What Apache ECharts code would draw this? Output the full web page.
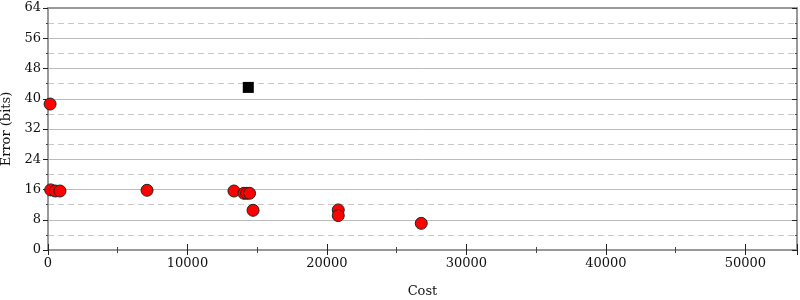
<!DOCTYPE html>
<html><head><meta charset="utf-8">
<script src="https://cdn.jsdelivr.net/npm/echarts@6/dist/echarts.min.js"></script>
<style>html,body{margin:0;padding:0;background:#fff}#c{width:800px;height:300px}</style>
</head><body><div id="c"></div>
<script>
// Red circles: [cost, error bits]
const circleCost  = [150, 194, 523, 860, 7100, 13333, 14050, 14250, 14450, 14700, 20810, 20810, 26760];
const circleError = [38.6, 15.9, 15.6, 15.6, 15.8, 15.6, 15.0, 15.0, 15.0, 10.5, 10.6, 9.1, 7.05];
// Black square
const squareCost  = [14360];
const squareError = [43.0];
const xMax = 53700;
const yMax = 64;

const font = 'DejaVu Serif';
const chart = echarts.init(document.getElementById('c'), null, {renderer: 'canvas'});
chart.setOption({
  animation: false,
  grid: {left: 48, right: 3, top: 8, bottom: 50, outerBoundsMode: 'none', containLabel: false},
  xAxis: [{
    type: 'value', min: 0, max: xMax, interval: 10000,
    name: 'Cost', nameLocation: 'middle', nameGap: 35,
    nameTextStyle: {fontFamily: font, fontSize: 13, color: '#111'},
    axisLine: {show: true, onZero: false, lineStyle: {color: '#999', width: 2}},
    axisTick: {show: true, length: 5, lineStyle: {color: '#222'}},
    minorTick: {show: true, splitNumber: 2, length: 3, lineStyle: {color: '#444'}},
    axisLabel: {fontFamily: font, fontSize: 13, color: '#111', margin: 7,
      formatter: v => (v % 10000 === 0 ? String(v) : '')},
    splitLine: {show: false}
  }, {
    type: 'value', position: 'top', min: 0, max: xMax, interval: 10000,
    axisLine: {show: true, onZero: false, lineStyle: {color: '#999', width: 2}},
    axisTick: {show: false}, axisLabel: {show: false}, splitLine: {show: false}
  }, {
    type: 'value', position: 'bottom', min: 0, max: xMax, interval: 10000,
    axisLine: {show: false},
    axisTick: {show: true, inside: true, length: 6, lineStyle: {color: '#222'}},
    minorTick: {show: true, splitNumber: 2, length: 3, lineStyle: {color: '#444'}},
    axisLabel: {show: false}, splitLine: {show: false}
  }],
  yAxis: [{
    type: 'value', min: 0, max: yMax, interval: 8,
    name: 'Error (bits)', nameLocation: 'middle', nameGap: 29, nameRotate: 90,
    nameTextStyle: {fontFamily: font, fontSize: 13, color: '#111'},
    axisLine: {show: true, onZero: false, lineStyle: {color: '#999', width: 2}},
    axisTick: {show: true, length: 5, lineStyle: {color: '#222'}},
    minorTick: {show: true, splitNumber: 2, length: 2, lineStyle: {color: '#444'}},
    axisLabel: {fontFamily: font, fontSize: 13, color: '#111', margin: 7},
    splitLine: {show: true, lineStyle: {color: '#bbb', width: 1}},
    minorSplitLine: {show: true, lineStyle: {color: '#c8c8c8', width: 1, type: [6, 4]}}
  }, {
    type: 'value', position: 'right', min: 0, max: yMax, interval: 8,
    axisLine: {show: true, onZero: false, lineStyle: {color: '#999', width: 2}},
    axisTick: {show: true, inside: true, length: 5, lineStyle: {color: '#222'}},
    minorTick: {show: true, splitNumber: 2, length: 2, lineStyle: {color: '#444'}},
    axisLabel: {show: false}, splitLine: {show: false}
  }],
  series: [{
    type: 'scatter', xAxisIndex: 0, yAxisIndex: 0,
    symbol: 'circle', symbolSize: 12,
    itemStyle: {color: '#ff0000', borderColor: '#222', borderWidth: 1, opacity: 1},
    data: circleCost.map((c, i) => [c, circleError[i]]),
    clip: false
  }, {
    type: 'scatter', xAxisIndex: 0, yAxisIndex: 0,
    symbol: 'rect', symbolSize: 11,
    itemStyle: {color: '#000', opacity: 1},
    data: squareCost.map((c, i) => [c, squareError[i]])
  }]
});
</script></body></html>
